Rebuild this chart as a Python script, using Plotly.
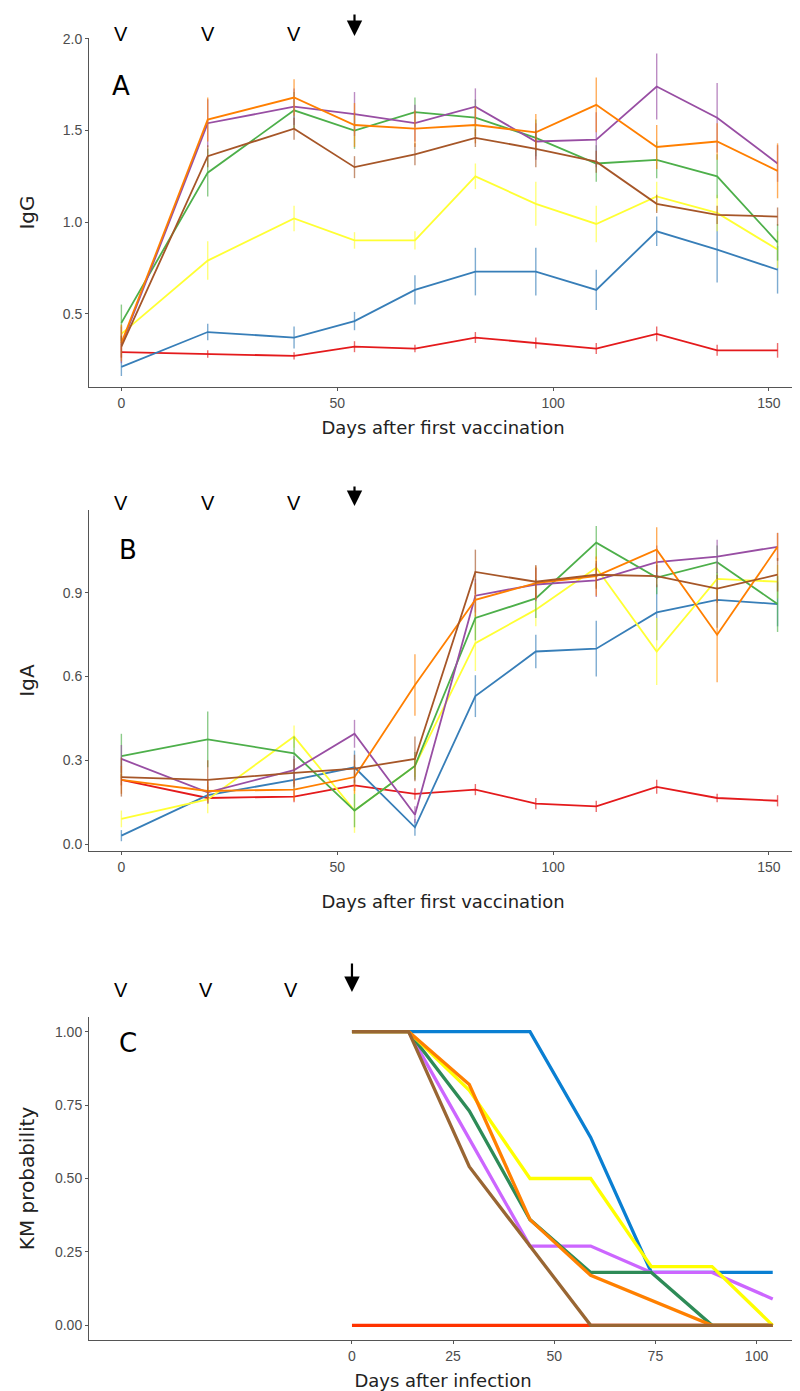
import plotly.graph_objects as go

# page is 800x1391; browser body margin is 8px, so the figure is offset by 8px
PAGE_W, PAGE_H, OFF = 800, 1391, 8
W, H = PAGE_W, PAGE_H - OFF

# ---------------- data ----------------
days = [0, 20, 40, 54, 68, 82, 96, 110, 124, 138, 152]
vacc_days = [0, 20, 40]
challenge_day = 54

set1 = {"red": "#E41A1C", "blue": "#377EB8", "green": "#4DAF4A", "purple": "#984EA3",
        "orange": "#FF7F00", "yellow": "#FFFF33", "brown": "#A65628"}

igg = {
    "red":    [0.29, 0.28, 0.27, 0.32, 0.31, 0.37, 0.34, 0.31, 0.39, 0.30, 0.30],
    "blue":   [0.21, 0.40, 0.37, 0.46, 0.63, 0.73, 0.73, 0.63, 0.95, 0.85, 0.74],
    "yellow": [0.39, 0.79, 1.02, 0.90, 0.90, 1.25, 1.10, 0.99, 1.14, 1.05, 0.85],
    "green":  [0.45, 1.27, 1.61, 1.50, 1.60, 1.57, 1.46, 1.32, 1.34, 1.25, 0.89],
    "purple": [0.33, 1.54, 1.63, 1.59, 1.54, 1.63, 1.44, 1.45, 1.74, 1.57, 1.32],
    "orange": [0.34, 1.56, 1.68, 1.53, 1.51, 1.53, 1.49, 1.64, 1.41, 1.44, 1.28],
    "brown":  [0.32, 1.36, 1.51, 1.30, 1.37, 1.46, 1.40, 1.33, 1.10, 1.04, 1.03],
}
igg_err = {
    "red":    [0.03, 0.02, 0.02, 0.03, 0.02, 0.03, 0.03, 0.03, 0.04, 0.03, 0.04],
    "blue":   [0.05, 0.045, 0.06, 0.05, 0.08, 0.13, 0.13, 0.11, 0.08, 0.18, 0.13],
    "yellow": [0.05, 0.105, 0.07, 0.045, 0.05, 0.07, 0.12, 0.10, 0.08, 0.10, 0.10],
    "green":  [0.10, 0.13, 0.10, 0.10, 0.08, 0.10, 0.10, 0.10, 0.10, 0.12, 0.10],
    "purple": [0.10, 0.13, 0.10, 0.12, 0.10, 0.10, 0.10, 0.15, 0.18, 0.19, 0.10],
    "orange": [0.10, 0.12, 0.10, 0.12, 0.10, 0.10, 0.10, 0.15, 0.12, 0.10, 0.15],
    "brown":  [0.06, 0.06, 0.06, 0.06, 0.06, 0.05, 0.10, 0.06, 0.05, 0.05, 0.05],
}

iga = {
    "red":    [0.23, 0.165, 0.17, 0.21, 0.18, 0.195, 0.145, 0.135, 0.205, 0.165, 0.155],
    "blue":   [0.03, 0.175, 0.23, 0.275, 0.06, 0.53, 0.69, 0.70, 0.83, 0.875, 0.86],
    "green":  [0.315, 0.375, 0.325, 0.12, 0.28, 0.81, 0.88, 1.08, 0.955, 1.01, 0.86],
    "purple": [0.305, 0.185, 0.265, 0.395, 0.105, 0.89, 0.93, 0.945, 1.01, 1.03, 1.065],
    "orange": [0.23, 0.19, 0.195, 0.24, 0.57, 0.875, 0.935, 0.96, 1.055, 0.75, 1.065],
    "yellow": [0.09, 0.16, 0.385, 0.12, 0.28, 0.72, 0.84, 0.99, 0.69, 0.95, 0.94],
    "brown":  [0.24, 0.23, 0.255, 0.27, 0.305, 0.975, 0.94, 0.965, 0.96, 0.915, 0.965],
}
iga_err = {
    "red":    [0.02, 0.02, 0.02, 0.02, 0.02, 0.02, 0.02, 0.02, 0.025, 0.015, 0.02],
    "blue":   [0.02, 0.03, 0.04, 0.06, 0.03, 0.075, 0.06, 0.10, 0.10, 0.10, 0.08],
    "green":  [0.08, 0.10, 0.06, 0.06, 0.05, 0.08, 0.07, 0.06, 0.06, 0.06, 0.10],
    "purple": [0.05, 0.04, 0.05, 0.05, 0.03, 0.06, 0.06, 0.06, 0.06, 0.06, 0.05],
    "orange": [0.05, 0.04, 0.04, 0.06, 0.11, 0.06, 0.06, 0.07, 0.08, 0.17, 0.05],
    "yellow": [0.03, 0.05, 0.04, 0.08, 0.04, 0.10, 0.06, 0.07, 0.12, 0.06, 0.06],
    "brown":  [0.07, 0.07, 0.05, 0.05, 0.08, 0.08, 0.06, 0.05, 0.04, 0.05, 0.06],
}

km_days = [0, 14, 29, 44, 59, 74, 89, 104]
km_vacc_days = [-57, -36, -15]
km_challenge = 0
km_colors = {"red": "#FF3300", "blue": "#0A7FD2", "purple": "#CC66FF", "green": "#2E8B57",
             "yellow": "#FFFF00", "orange": "#FF8000", "brown": "#996633"}
km = {
    "red":    [0.0, 0.0, 0.0, 0.0, 0.0, 0.0, 0.0, 0.0],
    "blue":   [1.0, 1.0, 1.0, 1.0, 0.64, 0.18, 0.18, 0.18],
    "purple": [1.0, 1.0, 0.635, 0.27, 0.27, 0.18, 0.18, 0.09],
    "green":  [1.0, 1.0, 0.73, 0.36, 0.18, 0.18, 0.0, 0.0],
    "yellow": [1.0, 1.0, 0.80, 0.50, 0.50, 0.20, 0.20, 0.0],
    "orange": [1.0, 1.0, 0.82, 0.36, 0.17, 0.085, 0.0, 0.0],
    "brown":  [1.0, 1.0, 0.54, 0.27, 0.0, 0.0, 0.0, 0.0],
}


# ---------------- layout geometry (page pixels -> paper) ----------------
def px(p):
    return (p - OFF) / W


def py(p):
    return 1 - (p - OFF) / H


x_dom = [px(89), px(797)]
dom = {1: [py(387), py(38)], 2: [py(851), py(510)], 3: [py(1340), py(1017)]}


def rgba(hexc, a):
    h = hexc.lstrip("#")
    r, g, b = int(h[0:2], 16), int(h[2:4], 16), int(h[4:6], 16)
    return f"rgba({r},{g},{b},{a})"


fig = go.Figure()

for k, (data, err) in enumerate([(igg, igg_err), (iga, iga_err)], start=1):
    sfx = str(k) if k > 1 else ""
    for g in ["red", "blue", "yellow", "green", "purple", "orange", "brown"]:
        fig.add_trace(go.Scatter(
            x=days, y=data[g], mode="lines",
            line=dict(color=set1[g], width=1.8),
            error_y=dict(type="data", array=err[g], visible=True,
                         color=rgba(set1[g], 0.65), thickness=1.4, width=0),
            xaxis="x" + sfx, yaxis="y" + sfx,
            showlegend=False, hoverinfo="skip"))

for g in ["red", "blue", "purple", "green", "yellow", "orange", "brown"]:
    fig.add_trace(go.Scatter(
        x=km_days, y=km[g], mode="lines",
        line=dict(color=km_colors[g], width=3.3),
        xaxis="x3", yaxis="y3", showlegend=False, hoverinfo="skip"))

tickfont = dict(family="Liberation Sans, Arial, sans-serif", size=14, color="#4d4d4d")
xtitlefont = dict(family="DejaVu Sans, sans-serif", size=18, color="#222")
ytitlefont = dict(family="DejaVu Sans, sans-serif", size=20, color="#222")
axcommon = dict(showgrid=False, zeroline=False, showline=True, linecolor="#555",
                linewidth=1, ticks="outside", ticklen=3, tickcolor="#555",
                tickfont=tickfont, automargin=False)

fig.update_layout(
    width=W, height=H, margin=dict(l=0, r=0, t=0, b=0, autoexpand=False),
    paper_bgcolor="white", plot_bgcolor="white", showlegend=False,
    xaxis=dict(domain=x_dom, anchor="y", range=[-7.5, 156.5],
               tickvals=[0, 50, 100, 150],
               title=dict(text="Days after first vaccination", font=xtitlefont, standoff=11),
               **axcommon),
    yaxis=dict(domain=dom[1], anchor="x", range=[0.1, 2.005],
               tickvals=[0.5, 1.0, 1.5, 2.0], ticktext=["0.5", "1.0", "1.5", "2.0"],
               title=dict(text="IgG", font=ytitlefont, standoff=22), **axcommon),
    xaxis2=dict(domain=x_dom, anchor="y2", range=[-7.5, 156.5],
                tickvals=[0, 50, 100, 150],
                title=dict(text="Days after first vaccination", font=xtitlefont, standoff=21),
                **axcommon),
    yaxis2=dict(domain=dom[2], anchor="x2", range=[-0.025, 1.197],
                tickvals=[0.0, 0.3, 0.6, 0.9], ticktext=["0.0", "0.3", "0.6", "0.9"],
                title=dict(text="IgA", font=ytitlefont, standoff=22), **axcommon),
    xaxis3=dict(domain=x_dom, anchor="y3", range=[-65, 110],
                tickvals=[0, 25, 50, 75, 100],
                title=dict(text="Days after infection", font=xtitlefont, standoff=14),
                **axcommon),
    yaxis3=dict(domain=dom[3], anchor="x3", range=[-0.05, 1.05],
                tickvals=[0, 0.25, 0.5, 0.75, 1.0],
                ticktext=["0.00", "0.25", "0.50", "0.75", "1.00"],
                title=dict(text="KM probability", font=ytitlefont, standoff=14), **axcommon),
)

annots = []
marker_rows = [("x", vacc_days, challenge_day, 34, 13, 36),
               ("x2", vacc_days, challenge_day, 503, 485, 506),
               ("x3", km_vacc_days, km_challenge, 990, 962, 992)]
for xref, vd, cd, vy, ay0, ay1 in marker_rows:
    for d in vd:
        annots.append(dict(x=d, xref=xref, y=py(vy), yref="paper", text="V",
                           showarrow=False,
                           font=dict(family="Liberation Sans, Arial", size=20, color="black"),
                           xanchor="center", yanchor="middle"))
    annots.append(dict(x=cd, xref=xref, y=py(ay1), yref="paper", text="",
                       showarrow=True, ax=0, ay=-(ay1 - ay0), arrowhead=2,
                       arrowsize=1.4, arrowwidth=2.2, arrowcolor="black"))

for lbl, xp, yp in [("A", 121, 86), ("B", 128, 550), ("C", 128, 1043)]:
    annots.append(dict(x=px(xp), xref="paper", y=py(yp), yref="paper", text=lbl,
                       showarrow=False,
                       font=dict(family="DejaVu Sans, sans-serif", size=26, color="black"),
                       xanchor="center", yanchor="middle"))

fig.update_layout(annotations=annots)
fig.write_html("out.html")
